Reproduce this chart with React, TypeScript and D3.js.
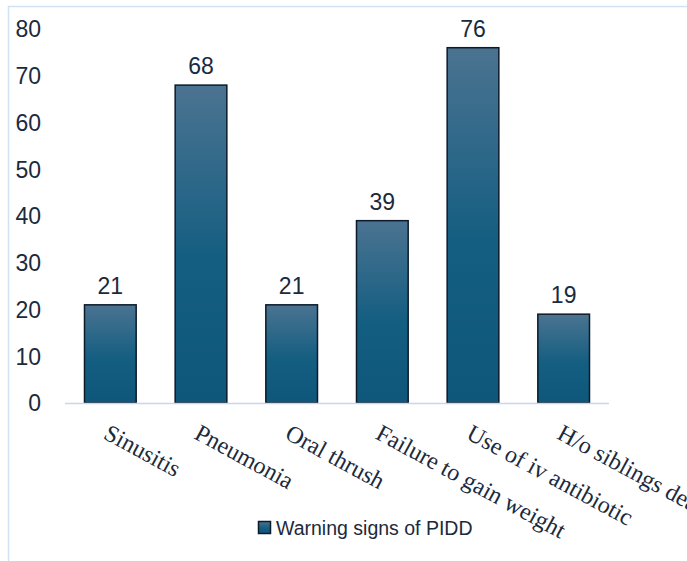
import React from 'react';
import * as d3 from 'd3';

const categories = ['Sinusitis', 'Pneumonia', 'Oral thrush', 'Failure to gain weight', 'Use of iv antibiotic', 'H/o siblings death'];
const values = [21, 68, 21, 39, 76, 19];
const yTicks = [0, 10, 20, 30, 40, 50, 60, 70, 80];
const seriesName = 'Warning signs of PIDD';

const W = 687;
const H = 561;
const margin = { left: 65, right: 78, top: 29, bottom: 158 };

const App: React.FC = () => {
  const x = d3.scaleBand<string>()
    .domain(categories)
    .range([margin.left, W - margin.right])
    .paddingInner(0.43)
    .paddingOuter(0.215);

  const y = d3.scaleLinear()
    .domain([0, 80])
    .range([H - margin.bottom, margin.top]);

  const ink = '#1b2a3c';
  const sans = '"Liberation Sans", Arial, sans-serif';

  return (
    <div style={{ position: 'absolute', left: 0, top: 0 }}>
      <svg width={W} height={H} viewBox={`0 0 ${W} ${H}`} style={{ display: 'block', background: '#fff' }}>
        <defs>
          <linearGradient id="barGrad" x1="0" y1="0" x2="0" y2="1">
            <stop offset="0" stopColor="#4b7391" />
            <stop offset="0.55" stopColor="#145e81" />
            <stop offset="1" stopColor="#0e577a" />
          </linearGradient>
        </defs>

        {/* chart frame, runs off the right and bottom edges */}
        <rect x={8.5} y={6.5} width={720} height={600} fill="none" stroke="#d3e2f3" strokeWidth={1.5} />

        {/* y tick labels */}
        {yTicks.map(t => (
          <text key={t} x={41} y={y(t)} dy="0.36em" textAnchor="end" fontFamily={sans} fontSize={23} fill={ink}>
            {t}
          </text>
        ))}

        {/* bars */}
        {categories.map((c, i) => (
          <rect
            key={c}
            x={x(c)!}
            y={y(values[i])}
            width={x.bandwidth()}
            height={y(0) - y(values[i])}
            fill="url(#barGrad)"
            stroke="#0c1a29"
            strokeWidth={1.5}
          />
        ))}

        {/* baseline */}
        <line x1={margin.left} x2={W - margin.right} y1={y(0) + 0.5} y2={y(0) + 0.5} stroke="#c5d8ee" strokeWidth={1.5} />

        {/* value labels */}
        {categories.map((c, i) => (
          <text
            key={c}
            x={x(c)! + x.bandwidth() / 2}
            y={y(values[i]) - 11}
            textAnchor="middle"
            fontFamily={sans}
            fontSize={23}
            fill={ink}
          >
            {values[i]}
          </text>
        ))}

        {/* category labels */}
        {categories.map(c => {
          const cx = x(c)! + x.bandwidth() / 2;
          return (
            <text
              key={c}
              transform={`translate(${cx - 8},${438}) rotate(28.5)`}
              textAnchor="start"
              fontFamily='"Liberation Serif", "Times New Roman", serif'
              fontSize={24}
              fill={ink}
            >
              {c}
            </text>
          );
        })}

        {/* legend */}
        <rect x={258.5} y={521.5} width={12} height={12} fill="url(#barGrad)" stroke="#0c1a29" strokeWidth={1.5} />
        <text x={276} y={527.5} dy="0.36em" fontFamily={sans} fontSize={19.5} fill={ink}>
          {seriesName}
        </text>
      </svg>
    </div>
  );
};

export default App;
